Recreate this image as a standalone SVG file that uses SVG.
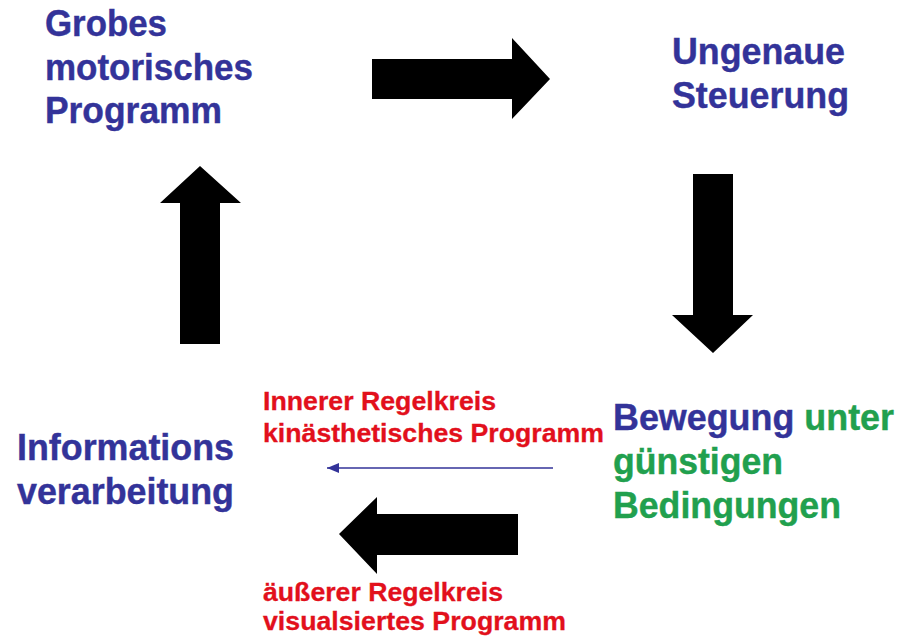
<svg xmlns="http://www.w3.org/2000/svg" width="898" height="637" viewBox="0 0 898 637">
<style>
text { font-family: "Liberation Sans", Arial, sans-serif; font-weight: bold; }
.big { font-size: 36px; }
.small { font-size: 26px; fill: #e2101c; stroke: #e2101c; stroke-width: 0.3px; }
.blue { fill: #333399; stroke: #333399; stroke-width: 0.4px; }
.green { fill: #21a04e; stroke: #21a04e; stroke-width: 0.4px; }
.arrow { fill: #000; }
</style>
<defs>
<marker id="thinhead" viewBox="0 0 12 10" refX="12" refY="5" markerWidth="12" markerHeight="10" markerUnits="userSpaceOnUse" orient="auto">
<path d="M0,0 L12,5 L0,10 Z" fill="#333399"/>
</marker>
</defs>
<rect width="898" height="637" fill="#ffffff"/>
<g id="node-grobes">
<text class="big blue" x="45" y="36" textLength="122" lengthAdjust="spacingAndGlyphs">Grobes</text>
<text class="big blue" x="45" y="80" textLength="208" lengthAdjust="spacingAndGlyphs">motorisches</text>
<text class="big blue" x="45" y="123" textLength="177" lengthAdjust="spacingAndGlyphs">Programm</text>
</g>
<g id="node-ungenaue">
<text class="big blue" x="672" y="64" textLength="173" lengthAdjust="spacingAndGlyphs">Ungenaue</text>
<text class="big blue" x="672" y="108" textLength="177" lengthAdjust="spacingAndGlyphs">Steuerung</text>
</g>
<g id="node-bewegung">
<text class="big" x="613" y="430" textLength="281" lengthAdjust="spacingAndGlyphs"><tspan class="blue">Bewegung</tspan><tspan class="green"> unter</tspan></text>
<text class="big green" x="613" y="474" textLength="170" lengthAdjust="spacingAndGlyphs">günstigen</text>
<text class="big green" x="613" y="518" textLength="228" lengthAdjust="spacingAndGlyphs">Bedingungen</text>
</g>
<g id="node-informations">
<text class="big blue" x="17" y="460" textLength="217" lengthAdjust="spacingAndGlyphs">Informations</text>
<text class="big blue" x="17" y="504" textLength="217" lengthAdjust="spacingAndGlyphs">verarbeitung</text>
</g>
<g id="label-innerer">
<text class="small" x="263" y="410" textLength="233" lengthAdjust="spacingAndGlyphs">Innerer Regelkreis</text>
<text class="small" x="263" y="442" textLength="341" lengthAdjust="spacingAndGlyphs">kinästhetisches Programm</text>
</g>
<g id="label-aeusserer">
<text class="small" x="263" y="601" textLength="240" lengthAdjust="spacingAndGlyphs">äußerer Regelkreis</text>
<text class="small" x="263" y="630" textLength="303" lengthAdjust="spacingAndGlyphs">visualsiertes Programm</text>
</g>
<g id="connectors">
<polygon class="arrow" points="372,59 512,59 512,38 550,79 512,119 512,99 372,99"/>
<polygon class="arrow" points="693,174 733,174 733,315 753,315 713,353 672,315 693,315"/>
<polygon class="arrow" points="518,514 377,514 377,497 339,534 377,574 377,555 518,555"/>
<polygon class="arrow" points="180,344 180,203 160,203 200,166 241,203 220,203 220,344"/>
<line x1="553" y1="468" x2="327" y2="468" stroke="#333399" stroke-width="1.5" marker-end="url(#thinhead)"/>
</g>
</svg>
